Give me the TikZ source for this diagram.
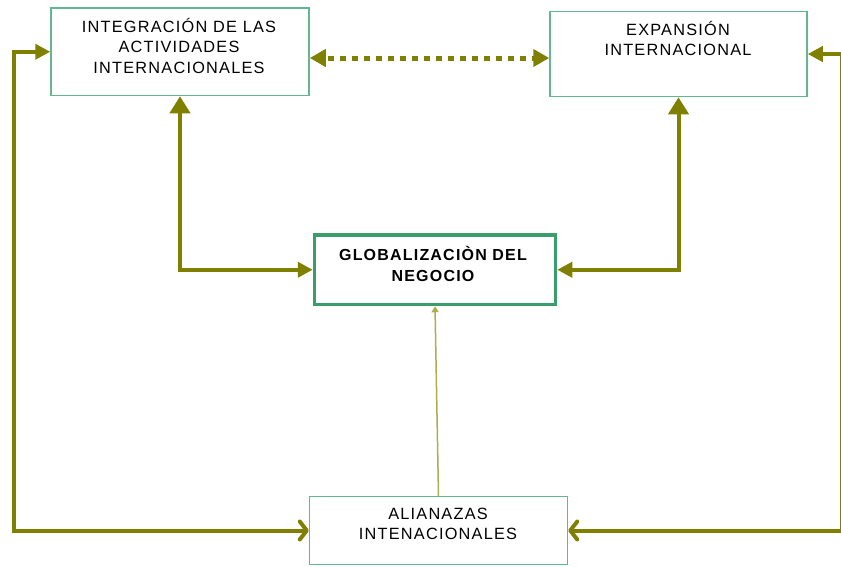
\documentclass[tikz,border=0pt]{standalone}
\usepackage{fontspec}
\setmainfont{Liberation Sans}[LetterSpace=7.5]
\usetikzlibrary{arrows.meta}
\definecolor{oliv}{RGB}{128,128,0}
\definecolor{thinol}{RGB}{172,172,80}
\definecolor{boxg}{RGB}{100,182,142}
\definecolor{boxgd}{RGB}{58,158,108}
\newcommand{\mlines}[1]{\begin{tabular}[t]{@{}c@{}}#1\end{tabular}}
\begin{document}
\begin{tikzpicture}[x=1pt,y=-1pt,
  boxn/.style={draw=boxg, line width=1.5pt, rectangle, inner sep=0, fill=white},
  txt/.style={anchor=base, inner sep=0, font=\fontsize{16.3}{20.8}\selectfont},
  conn/.style={draw=oliv, line width=4pt, line join=miter},
  tri/.tip={Triangle[length=15pt,width=15pt]},
  bigtri/.tip={Triangle[length=17pt,width=20pt]},
  dottri/.tip={Triangle[length=16pt,width=17pt]},
  barb/.tip={Straight Barb[length=7pt,width=18pt,line join=round, line cap=round]}]
\useasboundingbox (0,0) rectangle (841,566);
% boxes
\node[boxn, minimum width=258pt, minimum height=87.5pt] (integ) at (180,51.75) {};
\node[boxn, minimum width=257pt, minimum height=85pt] (expan) at (678.5,54) {};
\node[boxn, draw=boxgd, line width=3.5pt, minimum width=241pt, minimum height=69.5pt] (glob) at (435,269.75) {};
\node[boxn, minimum width=258pt, minimum height=68pt] (ali) at (438.5,530.5) {};
% texts
\node[txt] (tinteg) at (179,32) {\mlines{INTEGRACIÓN DE LAS\\ACTIVIDADES\\INTERNACIONALES}};
\node[txt] (texpan) at (678,35) {\mlines{EXPANSIÓN\\INTERNACIONAL}};
\node[txt, font=\fontsize{16}{21.5}\selectfont\bfseries] (tglob) at (433,260) {\mlines{GLOBALIZACIÒN DEL\\NEGOCIO}};
\node[txt] (tali) at (438,519) {\mlines{ALIANAZAS\\INTENACIONALES}};
% coordinates
\coordinate (cL) at (14,300);
\coordinate (cR) at (842,300);
\coordinate (dy) at (0,58);
% connectors
\draw[conn, barb-tri] (ali.west) -| (cL) |- (integ.west);
\draw[conn, barb-tri] (ali.east) -| (cR) |- (expan.east);
\draw[conn, bigtri-tri] (integ.south) |- (glob.west);
\draw[conn, bigtri-tri] (expan.south) |- (glob.east);
\draw[draw=oliv, line width=5pt, dash pattern=on 6pt off 6pt, dash phase=-3pt, dottri-dottri] (integ.east |- dy) -- (expan.west |- dy);
\draw[draw=thinol, line width=1.5pt, -{Triangle[length=6pt,width=7pt]}] (ali.north) -- (glob.south);
\end{tikzpicture}
\end{document}
